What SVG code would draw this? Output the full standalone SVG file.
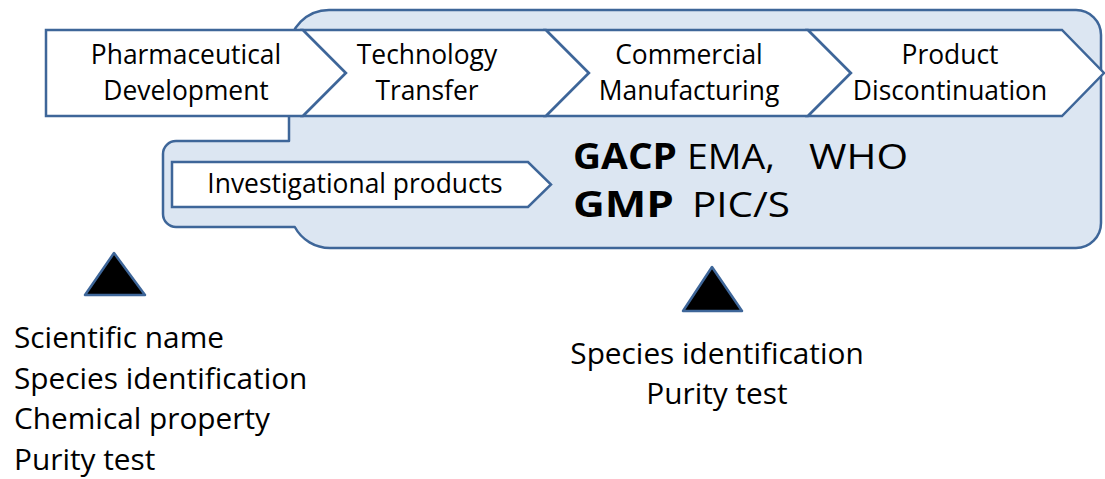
<svg xmlns="http://www.w3.org/2000/svg" width="1105" height="479" viewBox="0 0 1105 479">
<style>
.bg{fill:#DCE6F2;stroke:#3E6699;stroke-width:2.5;stroke-linejoin:round}
.chev{fill:#FFFFFF;stroke:#3E6699;stroke-width:2.5;stroke-linejoin:miter}
.tri{fill:#000000;stroke:#3E6699;stroke-width:2.5;stroke-linejoin:round}
.lbl{font-family:"Open Sans","Liberation Sans",sans-serif;font-size:26.4px;fill:#000000;text-anchor:middle}
.big{font-family:"Open Sans","Liberation Sans",sans-serif;font-size:35px;fill:#000000}
.b{font-weight:bold}
.note{font-family:"Open Sans","Liberation Sans",sans-serif;font-size:29.8px;fill:#000000}
</style>
<rect width="1105" height="479" fill="#FFFFFF"/>
<g id="scope">
<path class="bg" d="M330,10 H1076 A25,25 0 0 1 1101,35 V223 A25,25 0 0 1 1076,248 H330 A40,40 0 0 1 294.8,227 H176 A13,13 0 0 1 163,214 V154 A13,13 0 0 1 176,141 H289 V50 A40,40 0 0 1 329,10 Z"/>
<text class="big" y="169"><tspan x="573" class="b" textLength="104" lengthAdjust="spacingAndGlyphs">GACP</tspan><tspan x="687" textLength="88" lengthAdjust="spacingAndGlyphs">EMA,</tspan><tspan x="809" textLength="99" lengthAdjust="spacingAndGlyphs">WHO</tspan></text>
<text class="big" y="217"><tspan x="573" class="b" textLength="101" lengthAdjust="spacingAndGlyphs">GMP</tspan><tspan x="692" textLength="98" lengthAdjust="spacingAndGlyphs">PIC/S</tspan></text>
</g>
<g id="pharmaceutical-development">
<path class="chev" d="M46,30 H303 L346,73 L303,116 H46 Z"/>
<text class="lbl" x="186" y="64">Pharmaceutical</text>
<text class="lbl" x="186" y="100">Development</text>
</g>
<g id="technology-transfer">
<path class="chev" d="M303,30 H546 L589,73 L546,116 H303 L346,73 Z"/>
<text class="lbl" x="427" y="64">Technology</text>
<text class="lbl" x="427" y="100">Transfer</text>
</g>
<g id="commercial-manufacturing">
<path class="chev" d="M546,30 H808 L851,73 L808,116 H546 L589,73 Z"/>
<text class="lbl" x="689" y="64">Commercial</text>
<text class="lbl" x="689" y="100">Manufacturing</text>
</g>
<g id="product-discontinuation">
<path class="chev" d="M808,30 H1062 L1104,73 L1062,116 H808 L851,73 Z"/>
<text class="lbl" x="950" y="64">Product</text>
<text class="lbl" x="950" y="100">Discontinuation</text>
</g>
<g id="investigational-products">
<path class="chev" d="M172,162 H528 L551,184.5 L528,207 H172 Z"/>
<text class="lbl" x="355" y="193">Investigational products</text>
</g>
<g id="marker-left">
<polygon class="tri" points="114,253 85,295 145,295"/>
<text class="note" x="14" y="348">Scientific name</text>
<text class="note" x="14" y="388.5">Species identification</text>
<text class="note" x="14" y="429">Chemical property</text>
<text class="note" x="14" y="469.5">Purity test</text>
</g>
<g id="marker-right">
<polygon class="tri" points="712,267 683,311 742,311"/>
<text class="note" x="717" y="364" text-anchor="middle">Species identification</text>
<text class="note" x="717" y="404" text-anchor="middle">Purity test</text>
</g>
<g id="connectors"></g>
</svg>
